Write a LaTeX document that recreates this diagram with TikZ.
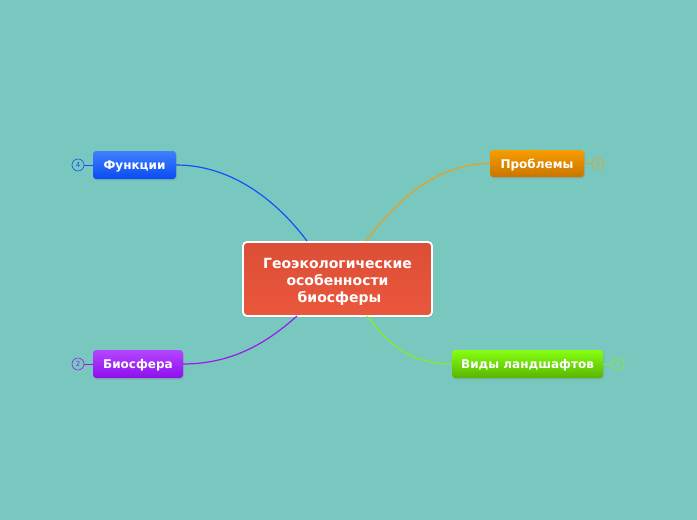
\documentclass[tikz,border=0pt]{standalone}
\usepackage{fontspec}
\setmainfont{DejaVu Sans}
\usetikzlibrary{shadows}
\definecolor{bg}{HTML}{79C8C0}
\definecolor{cred}{HTML}{EA573C}
\definecolor{credtop}{HTML}{DC4E37}
\definecolor{cbluetop}{HTML}{3F80FF}
\definecolor{cblue}{HTML}{0A4CF2}
\definecolor{corgtop}{HTML}{F69C00}
\definecolor{corg}{HTML}{C97500}
\definecolor{cpurtop}{HTML}{B545FF}
\definecolor{cpur}{HTML}{8E10EC}
\definecolor{cgrntop}{HTML}{86FF12}
\definecolor{cgrn}{HTML}{58B500}
\definecolor{lblue}{HTML}{1550F5}
\definecolor{lorg}{HTML}{E8A020}
\definecolor{lpur}{HTML}{9A18F0}
\definecolor{lgrn}{HTML}{7EF02A}
\tikzset{
  topic/.style={rounded corners=3pt, text=white, font=\bfseries\fontsize{12}{15}\selectfont,
    minimum height=28pt, inner xsep=0pt, text height=10pt, text depth=1pt,
    drop shadow={shadow xshift=1pt, shadow yshift=-1.5pt, opacity=0.25}},
  badge/.style={circle, draw, line width=0.6pt, minimum size=12pt, inner sep=0pt, font=\fontsize{7}{8}\selectfont},
  branch/.style={line width=1.2pt},
}
\begin{document}
\begin{tikzpicture}[x=1pt,y=-1pt]
\fill[bg] (0,0) rectangle (697,520);
\useasboundingbox (0,0) rectangle (697,520);

% central
\node[rounded corners=4pt, draw=white, line width=1.8pt, top color=credtop, bottom color=cred,
  minimum width=189pt, minimum height=74pt, text=white, align=center,
  font=\bfseries\fontsize{14}{17}\selectfont,
  drop shadow={shadow xshift=1pt, shadow yshift=-1.5pt, opacity=0.25}]
  (c) at (337.5,279) {};
\node[text=white, align=center, font=\bfseries\fontsize{14}{17}\selectfont] (ct) at (337.5,281.5)
  {Геоэкологические\\особенности\\\hspace*{4pt}биосферы};

% children
\node[topic, top color=cbluetop, bottom color=cblue, minimum width=83pt] (f) at (134.5,165) {Функции};
\node[topic, top color=corgtop, bottom color=corg, minimum width=94pt, minimum height=27pt] (p) at (537,163.5) {Проблемы};
\node[topic, top color=cpurtop, bottom color=cpur, minimum width=90pt] (b) at (138,364) {Биосфера};
\node[topic, top color=cgrntop, bottom color=cgrn, minimum width=151pt] (v) at (527.5,364) {Виды ландшафтов};

% badges
\node[badge, draw=lblue, text=lblue] (fb) at (78,165) {4};
\node[badge, draw=lorg, text=lorg] (pb) at (598,163.5) {2};
\node[badge, draw=lpur, text=lpur] (bb) at (78,364) {2};
\node[badge, draw=lgrn, text=lgrn] (vb) at (618,364) {2};
\draw[lblue, line width=0.8pt] (fb) -- (f);
\draw[lorg, line width=0.8pt] (pb) -- (p);
\draw[lpur, line width=0.8pt] (bb) -- (b);
\draw[lgrn, line width=0.8pt] (vb) -- (v);

% branches
\coordinate (cf) at (307,241);
\coordinate (cp) at (366,241);
\coordinate (cb) at (297,316);
\coordinate (cv) at (367,316);
\draw[branch, lblue] (f.east) .. controls (235,165) and (280,205) .. (cf);
\draw[branch, lorg] (p.west) .. controls (430,163.5) and (390,210) .. (cp);
\draw[branch, lpur] (b.east) .. controls (235,364) and (270,340) .. (cb);
\draw[branch, lgrn] (v.west) .. controls (410,364) and (390,345) .. (cv);
\end{tikzpicture}
\end{document}
